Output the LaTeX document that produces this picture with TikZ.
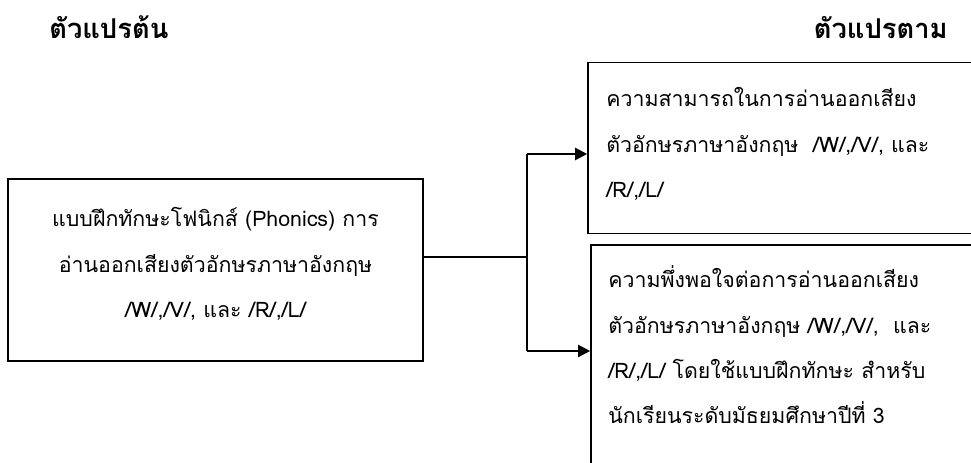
\documentclass[tikz,border=0pt]{standalone}
\usepackage{fontspec}
\setmainfont[Script=Thai]{Loma}
\newfontfamily\thaifont[Script=Thai]{Loma}
\usetikzlibrary{arrows.meta}
\newcommand{\bodyfont}{\thaifont\fontsize{16pt}{34pt}\selectfont}
\newcommand{\headfont}{\thaifont\bfseries\fontsize{20.5pt}{30pt}\selectfont}
\begin{document}
\begin{tikzpicture}[x=0.75pt,y=-0.75pt]
\tikzset{
  box/.style={draw, line width=1.2pt, rectangle, inner sep=0pt},
  body/.style={font=\bodyfont, inner sep=0pt},
  head/.style={font=\headfont, inner sep=0pt},
  conn/.style={line width=1.2pt},
  arrowconn/.style={line width=1.6pt, -{Triangle[length=9pt,width=9pt]}},
}
\useasboundingbox (0,0) rectangle (971,463);
\clip (0,0) rectangle (971,463);
% titles
\node[head, anchor=base west] (hl) at (49,39) {ตัวแปรต้น};
\node[head, anchor=base east] (hr) at (948,39) {ตัวแปรตาม};
% boxes
\node[box, minimum width=415*0.75pt, minimum height=182*0.75pt] (src) at (215.5,270) {};
\node[box, minimum width=412*0.75pt, minimum height=171*0.75pt] (dep1) at (794,148) {};
\node[box, minimum width=409*0.75pt, minimum height=245*0.75pt] (dep2) at (795.5,367.5) {};
% texts
\node[body, anchor=base] (srctext) at (215.5,227) {\begin{tabular}[t]{@{}c@{}}แบบฝึกทักษะโฟนิกส์ (Phonics) การ\\อ่านออกเสียงตัวอักษรภาษาอังกฤษ\\/W/,/V/, และ /R/,/L/\end{tabular}};
\node[body, anchor=base west] (dep1text) at (606,107) {\begin{tabular}[t]{@{}l@{}}ความสามารถในการอ่านออกเสียง\\ตัวอักษรภาษาอังกฤษ~~/W/,/V/, และ\\/R/,/L/\end{tabular}};
\node[body, anchor=base west] (dep2text) at (608,288) {\begin{tabular}[t]{@{}l@{}}ความพึ่งพอใจต่อการอ่านออกเสียง\\ตัวอักษรภาษาอังกฤษ /W/,/V/,~~และ\\/R/,/L/ โดยใช้แบบฝึกทักษะ สำหรับ\\นักเรียนระดับมัธยมศึกษาปีที่ 3\end{tabular}};
% connectors
\coordinate (out) at (src.east |- 0,257);
\coordinate (j) at (527,257);
\coordinate (j1) at (527,154);
\coordinate (j2) at (527,351);
\draw[conn] (out) -- (j);
\draw[line width=1.6pt] (j1) -- (j2);
\draw[arrowconn] (j1) -- (j1 -| dep1.west);
\draw[arrowconn] (j2) -- (j2 -| dep2.west);
\end{tikzpicture}
\end{document}
